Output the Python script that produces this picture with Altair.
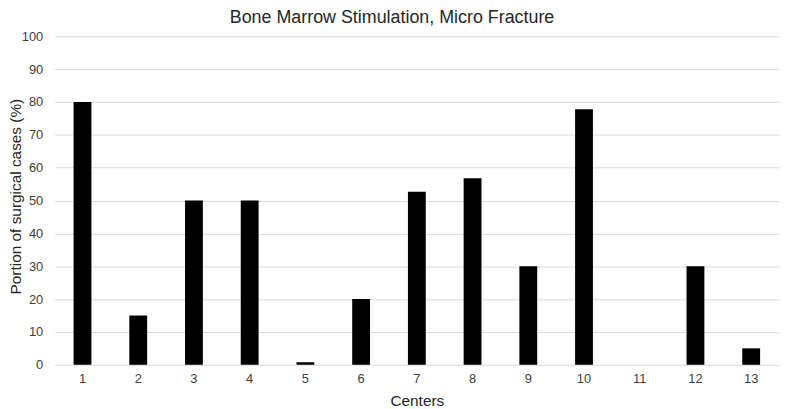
import altair as alt
import pandas as pd

centers = ["1", "2", "3", "4", "5", "6", "7", "8", "9", "10", "11", "12", "13"]
values = [80, 15, 50, 50, 0.8, 20, 52.7, 56.8, 30, 77.8, 0, 30, 5]

df = pd.DataFrame({"center": centers, "value": values})

FONT = "Liberation Sans"
TXT = "#404040"

chart = alt.Chart(df).mark_bar(color="black").encode(
    x=alt.X(
        "center:N",
        sort=centers,
        title="Centers",
        scale=alt.Scale(paddingInner=0.68, paddingOuter=0.34),
        axis=alt.Axis(
            labelAngle=0, labelFontSize=13, labelFont=FONT, labelColor=TXT,
            titleFontSize=15.5, titleFont=FONT, titleColor="#262626", titleFontWeight="normal",
            ticks=False, domain=False, labelPadding=8, titlePadding=8,
        ),
    ),
    y=alt.Y(
        "value:Q",
        title="Portion of surgical cases (%)",
        scale=alt.Scale(domain=[0, 100], nice=False),
        axis=alt.Axis(
            values=list(range(0, 101, 10)), labelFontSize=13, labelFont=FONT,
            labelColor=TXT, titleFontSize=15.5, titleFont=FONT, titleColor="#262626",
            titleFontWeight="normal", ticks=False, domain=False, labelPadding=12,
            gridColor="#d9d9d9", gridWidth=1,
            titleX=-39.5, titleY=161, titleAngle=-90, titleBaseline="middle",
            titleAlign="center",
        ),
    ),
).properties(
    width=730,
    height=331,
    title=alt.TitleParams(
        "Bone Marrow Stimulation, Micro Fracture",
        fontSize=18, font=FONT, color="#262626", fontWeight="normal",
        anchor="middle", dx=-25, offset=3,
    ),
    autosize=alt.AutoSizeParams(type="none"),
    padding={"left": 47, "top": 27, "right": 5, "bottom": 43},
).configure_view(stroke=None)

chart.save("out.html", embed_options={"renderer": "svg", "actions": False})
